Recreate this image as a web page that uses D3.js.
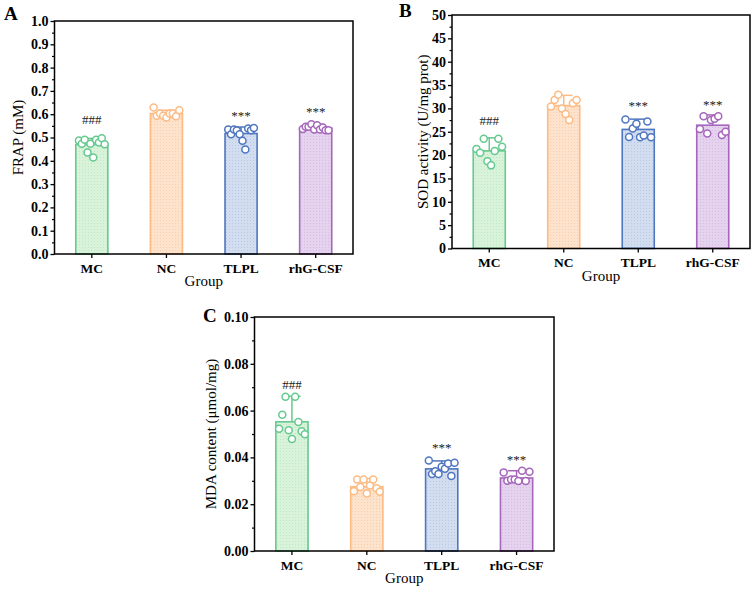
<!DOCTYPE html>
<html><head><meta charset="utf-8">
<script src="https://cdn.jsdelivr.net/npm/d3@7"></script>
<style>
body{margin:0;background:#fff}
svg{display:block}
text{font-family:"Liberation Serif","Times New Roman",serif}
</style>
</head><body>
<svg id="chart" width="756" height="591"></svg>
<script>
// ---------------- DATA ----------------
const categories = ["MC", "NC", "TLPL", "rhG-CSF"];

// Panel A: FRAP (mM)
const frapMeans  = [0.470, 0.603, 0.517, 0.541];
const frapErrors = [0.026, 0.014, 0.028, 0.015];
const frapPoints = [
  [0.487, 0.473, 0.490, 0.436, 0.473, 0.414, 0.490, 0.479, 0.497, 0.471],
  [0.629, 0.593, 0.603, 0.593, 0.586, 0.603, 0.603, 0.591, 0.617],
  [0.534, 0.514, 0.534, 0.530, 0.514, 0.486, 0.449, 0.539, 0.531, 0.541],
  [0.536, 0.546, 0.546, 0.557, 0.534, 0.553, 0.534, 0.543, 0.531, 0.531]
];
const frapMarks  = ["###", "", "***", "***"];
const frapMarkAt = [0.560, null, 0.574, 0.592];
const frapTicks  = [0, 0.1, 0.2, 0.3, 0.4, 0.5, 0.6, 0.7, 0.8, 0.9, 1.0];

// Panel B: SOD activity (U/mg prot)
const sodMeans  = [20.9, 30.6, 25.5, 26.4];
const sodErrors = [2.8, 2.2, 2.2, 2.2];
const sodPoints = [
  [21.3, 20.5, 23.5, 18.7, 17.8, 20.9, 23.5, 21.8],
  [30.4, 31.8, 32.9, 30.0, 28.8, 27.5, 31.1, 31.8],
  [27.6, 23.9, 25.7, 26.7, 23.8, 24.2, 27.2, 23.8],
  [25.6, 28.3, 24.6, 27.5, 27.8, 28.3, 24.3, 25.0]
];
const sodMarks  = ["###", "", "***", "***"];
const sodMarkAt = [26.4, null, 29.6, 29.8];
const sodTicks  = [0, 5, 10, 15, 20, 25, 30, 35, 40, 45, 50];

// Panel C: MDA content (µmol/mg)
const mdaMeans  = [0.0552, 0.0275, 0.0351, 0.0312];
const mdaErrors = [0.0109, 0.0035, 0.0034, 0.0031];
const mdaPoints = [
  [0.0522, 0.0582, 0.0659, 0.0516, 0.0479, 0.0659, 0.0551, 0.0512, 0.0499],
  [0.0255, 0.0306, 0.0274, 0.0306, 0.0246, 0.0280, 0.0306, 0.0268, 0.0253],
  [0.0387, 0.0329, 0.0341, 0.0329, 0.0360, 0.0352, 0.0374, 0.0321, 0.0377],
  [0.0336, 0.0300, 0.0306, 0.0306, 0.0299, 0.0343, 0.0299, 0.0339]
];
const mdaMarks  = ["###", "", "***", "***"];
const mdaMarkAt = [0.0694, null, 0.0424, 0.0371];
const mdaTicks  = [0, 0.02, 0.04, 0.06, 0.08, 0.10];

// ---------------- STYLE ----------------
const strokeColors = ["#66c98f", "#fdbb83", "#4f76c0", "#a566bb"];
const fillColors   = ["#d8f3da", "#fde2cc", "#d2ddef", "#e5d2ee"];
const dotColors    = ["#bfe8c4", "#f8cfae", "#b9c9e6", "#d6bde4"];

const svg = d3.select("#chart");
const defs = svg.append("defs");
fillColors.forEach((c, i) => {
  const p = defs.append("pattern").attr("id", "pat" + i)
    .attr("width", 3).attr("height", 3).attr("patternUnits", "userSpaceOnUse");
  p.append("rect").attr("width", 3).attr("height", 3).attr("fill", c);
  p.append("rect").attr("x", 1).attr("y", 1).attr("width", 1).attr("height", 1).attr("fill", dotColors[i]);
});

const panels = [
  {letter: "A", lx: 4, ly: 20, x0: 54.5, x1: 353, y0: 21, y1: 254,
   domain: [0, 1.0], ticks: frapTicks, minorStep: 0.05, fmt: d3.format(".1f"),
   title: "FRAP (mM)", titleX: 23,
   means: frapMeans, errs: frapErrors, pts: frapPoints, marks: frapMarks, markAt: frapMarkAt},
  {letter: "B", lx: 399, ly: 17, x0: 452, x1: 750, y0: 15, y1: 248.5,
   domain: [0, 50], ticks: sodTicks, minorStep: 2.5, fmt: d3.format("d"),
   title: "SOD activity (U/mg prot)", titleX: 428,
   means: sodMeans, errs: sodErrors, pts: sodPoints, marks: sodMarks, markAt: sodMarkAt},
  {letter: "C", lx: 203, ly: 322, x0: 254.5, x1: 554, y0: 317, y1: 551,
   domain: [0, 0.10], ticks: mdaTicks, minorStep: 0.01, fmt: d3.format(".2f"),
   title: "MDA content (μmol/mg)", titleX: 216,
   means: mdaMeans, errs: mdaErrors, pts: mdaPoints, marks: mdaMarks, markAt: mdaMarkAt}
];

panels.forEach(P => {
  const g = svg.append("g");
  const x = d3.scaleBand().domain(categories).range([P.x0, P.x1])
    .paddingInner(0.57).paddingOuter(0.285);
  const y = d3.scaleLinear().domain(P.domain).range([P.y1, P.y0]);
  const bw = x.bandwidth();

  // bars
  g.selectAll("rect.bar").data(categories).join("rect")
    .attr("class", "bar")
    .attr("x", d => x(d))
    .attr("y", (d, i) => y(P.means[i]))
    .attr("width", bw)
    .attr("height", (d, i) => y(0) - y(P.means[i]))
    .attr("fill", (d, i) => "url(#pat" + i + ")")
    .attr("stroke", (d, i) => strokeColors[i])
    .attr("stroke-width", 1.6);

  // error bars (upper)
  categories.forEach((c, i) => {
    const cx = x(c) + bw / 2;
    const top = y(P.means[i] + P.errs[i]);
    g.append("line").attr("x1", cx).attr("x2", cx)
      .attr("y1", y(P.means[i])).attr("y2", top)
      .attr("stroke", strokeColors[i]).attr("stroke-width", 1.5);
    g.append("line").attr("x1", cx - bw * 0.27).attr("x2", cx + bw * 0.27)
      .attr("y1", top).attr("y2", top)
      .attr("stroke", strokeColors[i]).attr("stroke-width", 1.5);
  });

  // points
  categories.forEach((c, i) => {
    const arr = P.pts[i];
    const n = arr.length;
    g.selectAll(null).data(arr).join("circle")
      .attr("cx", (v, j) => x(c) + bw * (0.1 + 0.8 * j / (n - 1)))
      .attr("cy", v => y(v))
      .attr("r", 3.5)
      .attr("fill", "#fff")
      .attr("stroke", strokeColors[i])
      .attr("stroke-width", 1.5);
  });

  // significance marks
  categories.forEach((c, i) => {
    if (!P.marks[i]) return;
    g.append("text")
      .attr("x", x(c) + bw / 2)
      .attr("y", y(P.markAt[i]))
      .attr("text-anchor", "middle")
      .attr("font-size", 13)
      .attr("fill", "#222")
      .text(P.marks[i]);
  });

  // frame
  g.append("rect").attr("x", P.x0).attr("y", P.y0)
    .attr("width", P.x1 - P.x0).attr("height", P.y1 - P.y0)
    .attr("fill", "none").attr("stroke", "#000").attr("stroke-width", 1.5);

  // y axis major
  const ya = g.append("g").attr("transform", `translate(${P.x0},0)`)
    .call(d3.axisLeft(y).tickValues(P.ticks).tickFormat(P.fmt).tickSize(4).tickPadding(2));
  ya.select(".domain").remove();
  ya.selectAll("line").attr("stroke-width", 1.3);
  ya.selectAll("text").attr("font-size", 14).attr("font-weight", "bold")
    .attr("font-family", '"Liberation Serif","Times New Roman",serif').attr("fill", "#000");

  // y axis minor
  const minor = d3.range(P.domain[0] + P.minorStep, P.domain[1], P.minorStep * 2);
  const ym = g.append("g").attr("transform", `translate(${P.x0},0)`)
    .call(d3.axisLeft(y).tickValues(minor).tickFormat("").tickSize(2.5));
  ym.select(".domain").remove();
  ym.selectAll("line").attr("stroke-width", 1.2);

  // x axis
  const xa = g.append("g").attr("transform", `translate(0,${P.y1})`)
    .call(d3.axisBottom(x).tickSize(4).tickPadding(5));
  xa.select(".domain").remove();
  xa.selectAll("line").attr("stroke-width", 1.3);
  xa.selectAll("text").attr("font-size", 13.5).attr("font-weight", "bold")
    .attr("font-family", '"Liberation Serif","Times New Roman",serif').attr("fill", "#000");

  // titles
  g.append("text").attr("x", (P.x0 + P.x1) / 2).attr("y", P.y1 + 32)
    .attr("text-anchor", "middle").attr("font-size", 15).text("Group");
  g.append("text")
    .attr("transform", `translate(${P.titleX},${(P.y0 + P.y1) / 2}) rotate(-90)`)
    .attr("text-anchor", "middle").attr("font-size", 15).text(P.title);

  // panel letter
  g.append("text").attr("x", P.lx).attr("y", P.ly)
    .attr("font-size", 19).attr("font-weight", "bold").text(P.letter);
});
</script>
</body></html>
